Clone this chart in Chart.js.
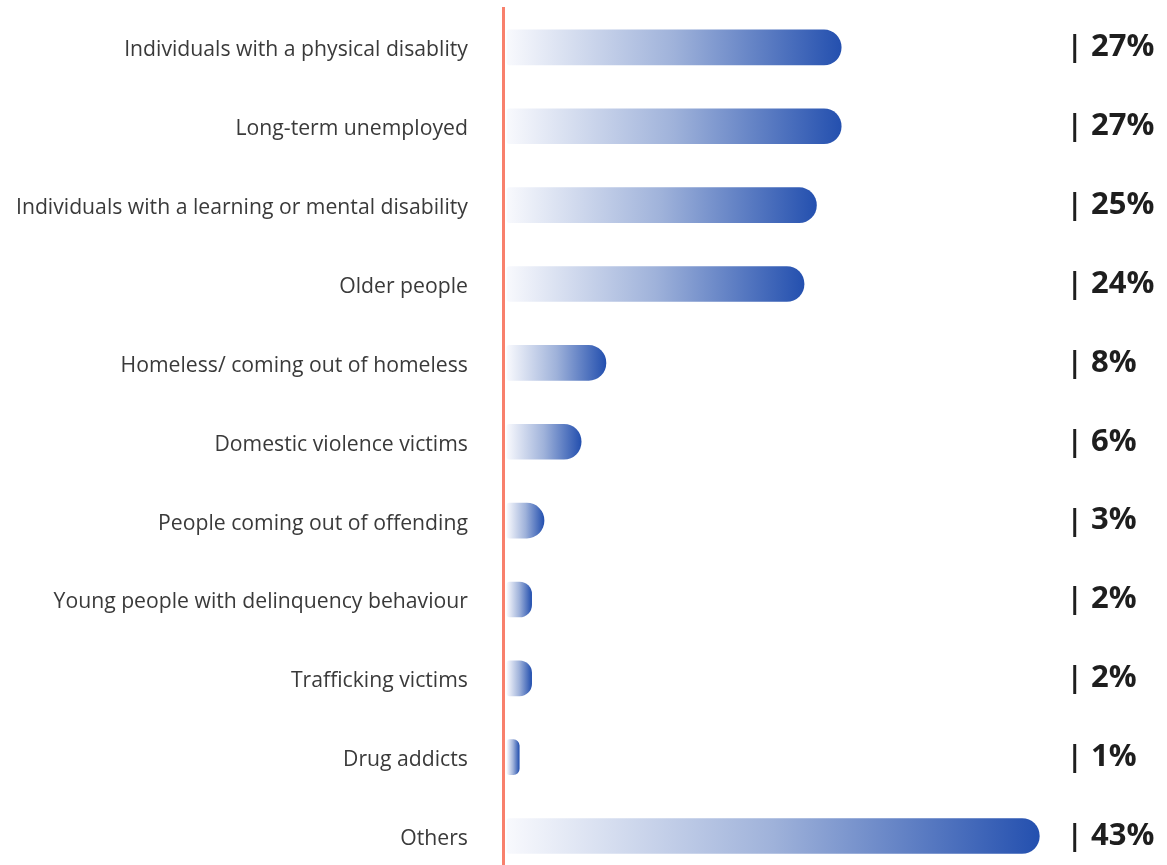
<!DOCTYPE html>
<html>
<head>
<meta charset="utf-8">
<script src="https://cdn.jsdelivr.net/npm/chart.js@4"></script>
<style>
  html, body { margin: 0; padding: 0; background: #fff; overflow: hidden; }
  #wrap { position: relative; width: 1167px; height: 876px; }
</style>
</head>
<body>
<div id="wrap"><canvas id="chart"></canvas></div>
<script>
const groups = [
  "Individuals with a physical disablity",
  "Long-term unemployed",
  "Individuals with a learning or mental disability",
  "Older people",
  "Homeless/ coming out of homeless",
  "Domestic violence victims",
  "People coming out of offending",
  "Young people with delinquency behaviour",
  "Trafficking victims",
  "Drug addicts",
  "Others",
];
const shares = [27, 27, 25, 24, 8, 6, 3, 2, 2, 1, 43];

// each bar fades from near white at zero to deep blue at its own end
const barFill = (ctx) => {
  const chart = ctx.chart;
  if (!chart.chartArea || ctx.raw == null) return "#2a55b2";
  const x = chart.scales.x;
  const x0 = x.getPixelForValue(0);
  const x1 = x.getPixelForValue(ctx.raw);
  const g = chart.ctx.createLinearGradient(x0, 0, Math.max(x1, x0 + 1), 0);
  g.addColorStop(0, "#f8f9fd");
  g.addColorStop(0.5, "#9fb2da");
  g.addColorStop(1, "#2450af");
  return g;
};

// "| 27%" column on the right
const shareLabels = {
  id: "shareLabels",
  afterDatasetsDraw(chart) {
    const { ctx } = chart;
    const meta = chart.getDatasetMeta(0);
    ctx.save();
    ctx.fillStyle = "#1e1e1e";
    ctx.textAlign = "left";
    ctx.textBaseline = "middle";
    meta.data.forEach((bar, i) => {
      ctx.font = "bold 28px 'Open Sans', sans-serif";
      ctx.fillText("|", 1067, bar.y + 1);
      ctx.font = "bold 31px 'Open Sans', sans-serif";
      ctx.fillText(shares[i] + "%", 1091, bar.y);
    });
    ctx.restore();
  },
};

new Chart(document.getElementById("chart"), {
  type: "bar",
  data: {
    labels: groups,
    datasets: [{
      data: shares,
      backgroundColor: barFill,
      barThickness: 35,
      borderSkipped: false,
      borderRadius: { topLeft: 3, bottomLeft: 3, topRight: 18, bottomRight: 18 },
    }],
  },
  options: {
    indexAxis: "y",
    responsive: true,
    maintainAspectRatio: false,
    animation: false,
    layout: { padding: { top: 8, right: 41, bottom: 0, left: 16 } },
    scales: {
      x: {
        display: false,
        min: -0.24,
        max: 50,
      },
      y: {
        grid: {
          drawOnChartArea: false,
          color: "transparent",
          tickLength: 36,
        },
        border: { color: "#f8806c", width: 3 },
        ticks: {
          padding: 0,
          labelOffset: 3,
          color: "#3a3a3a",
          font: { family: "'Open Sans', sans-serif", size: 21.2, lineHeight: 0.05 },
        },
      },
    },
    plugins: {
      legend: { display: false },
      tooltip: { enabled: false },
    },
  },
  plugins: [shareLabels],
});
</script>
</body>
</html>
